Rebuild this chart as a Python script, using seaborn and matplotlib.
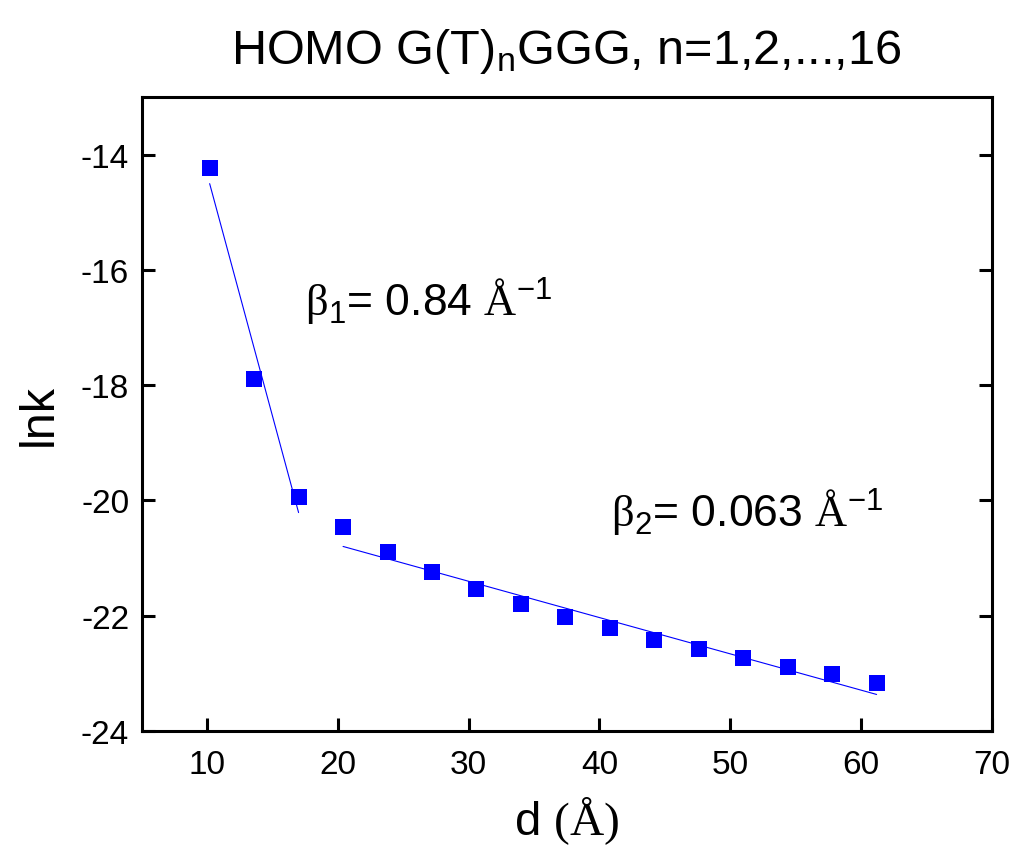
import numpy as np
import pandas as pd
import matplotlib
matplotlib.use("Agg")
import matplotlib.pyplot as plt
import seaborn as sns

# Donor-acceptor distance (Å) and ln of the transfer rate for G(T)nGGG, n = 1..16
distance = [10.2, 13.6, 17.0, 20.4, 23.8, 27.2, 30.6, 34.0,
            37.4, 40.8, 44.2, 47.6, 51.0, 54.4, 57.8, 61.2]
ln_k = [-14.23, -17.90, -19.95, -20.46, -20.90, -21.25, -21.54, -21.80,
        -22.03, -22.22, -22.42, -22.58, -22.74, -22.89, -23.02, -23.17]

# Linear fits ln k = a - beta * d over the two regimes
beta_1, a_1, fit1_range = 0.84, -5.932, (10.2, 17.0)
beta_2, a_2, fit2_range = 0.063, -19.515, (20.4, 61.2)

x_ticks = [10, 20, 30, 40, 50, 60, 70]
y_ticks = [-24, -22, -20, -18, -16, -14]

sns.set_theme(style="ticks")
plt.rcParams["font.family"] = ["Liberation Sans", "DejaVu Sans"]
plt.rcParams["axes.unicode_minus"] = False
plt.rcParams["mathtext.fontset"] = "custom"
plt.rcParams["mathtext.rm"] = "Liberation Serif"
plt.rcParams["mathtext.sf"] = "Liberation Sans"
plt.rcParams["mathtext.it"] = "Liberation Sans:italic"
plt.rcParams["mathtext.default"] = "sf"
plt.rcParams["text.color"] = "black"
plt.rcParams["axes.labelcolor"] = "black"

blue = "#0000FF"

fig = plt.figure(figsize=(10.14, 8.53), dpi=100)
ax = fig.add_axes([0.1397, 0.1422, 0.8383, 0.7426])

pts = pd.DataFrame({"d": distance, "lnk": ln_k})
sns.scatterplot(data=pts, x="d", y="lnk", marker="s", s=135, color=blue,
                linewidth=0, ax=ax, zorder=3)

for beta, a, (x0, x1) in [(beta_1, a_1, fit1_range), (beta_2, a_2, fit2_range)]:
    fx = np.array([x0, x1])
    fit = pd.DataFrame({"d": fx, "lnk": a - beta * fx})
    sns.lineplot(data=fit, x="d", y="lnk", color=blue, linewidth=0.8, ax=ax,
                 zorder=2)

ax.set_xlim(5, 70)
ax.set_ylim(-24, -13)
ax.set_xticks(x_ticks)
ax.set_yticks(y_ticks)
ax.tick_params(axis="both", direction="in", length=9.5, width=2.2,
               labelsize=24, colors="black")
ax.tick_params(axis="y", right=True, pad=9)
ax.tick_params(axis="x", pad=13)
for side in ["left", "right", "top", "bottom"]:
    ax.spines[side].set_visible(True)
    ax.spines[side].set_linewidth(2.2)
    ax.spines[side].set_color("black")

ax.set_xlabel(r"d $\mathrm{(Å)}$", fontsize=34, labelpad=10)
ax.set_ylabel("lnk", fontsize=35, labelpad=14)
ax.set_title(r"HOMO G(T)$_n$GGG, n=1,2,...,16", fontsize=35, pad=25)

ax.text(17.5, -16.8, r"$\mathrm{\beta}_1$= %.2f $\mathrm{Å}^{-1}$" % beta_1,
        fontsize=32, ha="left", va="baseline")
ax.text(40.9, -20.45, r"$\mathrm{\beta}_2$= %.3f $\mathrm{Å}^{-1}$" % beta_2,
        fontsize=32, ha="left", va="baseline")

fig.savefig("out.png", dpi=100, facecolor="white")
